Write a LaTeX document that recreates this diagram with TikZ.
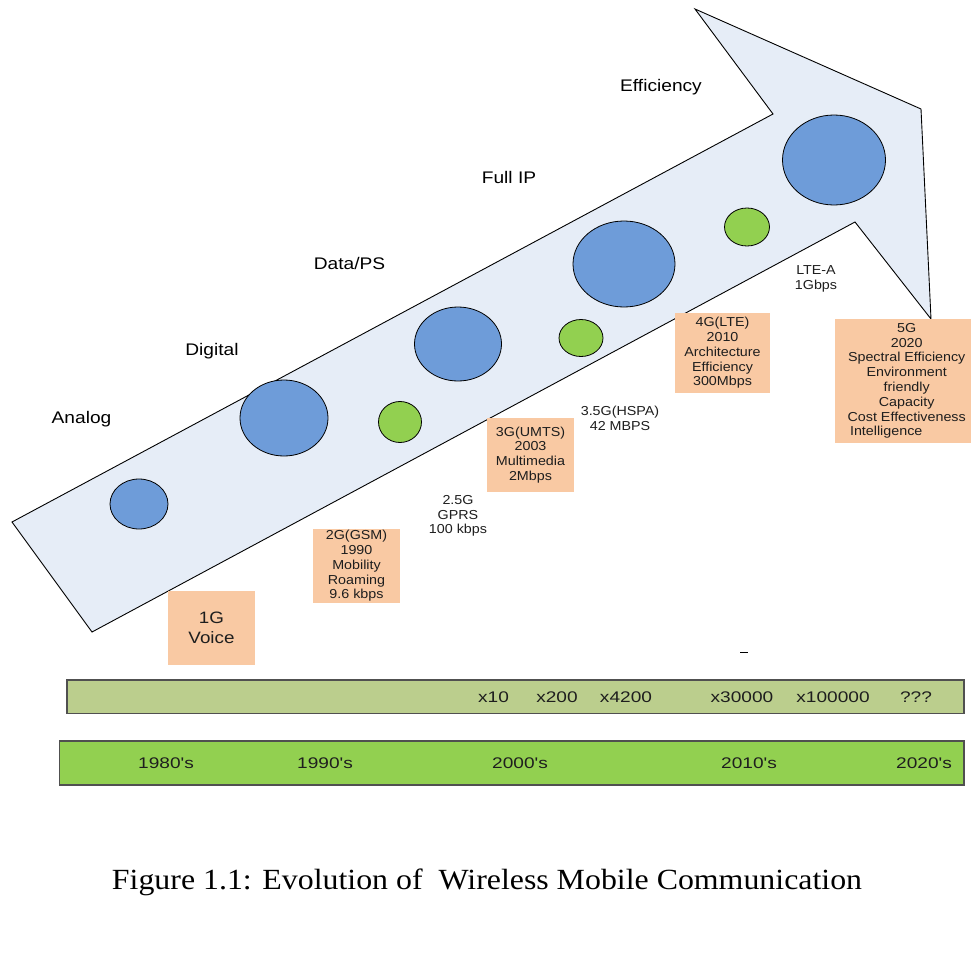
\documentclass[tikz,border=0pt]{standalone}
\usepackage{fontspec}
\usepackage{graphicx}
\usetikzlibrary{shapes.geometric}
\newfontfamily\lblfont{Liberation Sans}[FakeStretch=1.14]
\newfontfamily\boxfont{Liberation Sans}[FakeStretch=1.1]
\newfontfamily\barfont{Liberation Sans}[FakeStretch=1.24]
\newfontfamily\capfont{Liberation Serif}
\definecolor{arrowfill}{HTML}{E6EDF7}
\definecolor{dotblue}{HTML}{6E9CD9}
\definecolor{dotgreen}{HTML}{92D050}
\definecolor{peach}{HTML}{F9C9A3}
\definecolor{olivebar}{HTML}{BBCE8D}
\definecolor{barline}{HTML}{505050}
\definecolor{txt}{HTML}{1E1E1E}
\begin{document}
\begin{tikzpicture}[x=1pt,y=-1pt,
  arrowbody/.style={draw=black,line width=0.9pt,fill=arrowfill,line join=miter},
  dot/.style={ellipse,draw=black,line width=0.8pt,inner sep=0pt},
  bluedot/.style={dot,fill=dotblue},
  greendot/.style={dot,fill=dotgreen},
  gbox/.style={rectangle,fill=peach,inner sep=0pt,align=center,text=txt,
    font=\boxfont\fontsize{13}{14.8}\selectfont},
  note/.style={align=center,inner sep=0pt,text=txt,
    font=\boxfont\fontsize{13}{14.8}\selectfont},
  era/.style={anchor=base,inner sep=0pt,text=black,
    font=\lblfont\fontsize{16.8}{20}\selectfont},
  bar/.style={rectangle,draw=barline,line width=1.2pt,inner sep=0pt},
  bartext/.style={anchor=base,inner sep=0pt,text=txt,
    font=\barfont\fontsize{15.4}{18}\selectfont}]
\useasboundingbox[fill=white] (0,0) rectangle (971,977);

% the rising arrow
\coordinate (tailA) at (12,522);
\coordinate (notchA) at (773,114);
\coordinate (headA) at (695,9);
\coordinate (headB) at (921,109);
\coordinate (headC) at (931,319);
\coordinate (notchB) at (855,222);
\coordinate (tailB) at (92,632);
\draw[arrowbody] (tailA) -- (notchA) -- (headA) -- (headB) -- (headC)
  -- (notchB) -- (tailB) -- cycle;

% generation discs along the arrow
\node[bluedot,minimum width=58pt,minimum height=50pt] (c1) at (139,504) {};
\node[bluedot,minimum width=88pt,minimum height=76pt] (c2) at (284,418) {};
\node[greendot,minimum width=43pt,minimum height=41pt] (c3) at (400,422) {};
\node[bluedot,minimum width=87pt,minimum height=74pt] (c4) at (458,344) {};
\node[greendot,minimum width=44pt,minimum height=37pt] (c5) at (581,338) {};
\node[bluedot,minimum width=102pt,minimum height=86pt] (c6) at (624,264) {};
\node[greendot,minimum width=45pt,minimum height=38pt] (c7) at (747,227) {};
\node[bluedot,minimum width=103pt,minimum height=90pt] (c8) at (834,160) {};

% technology labels above the arrow
\node[era] (analog) at (81.5,423.3) {Analog};
\node[era] (digital) at (212,355.5) {Digital};
\node[era] (dataps) at (349.5,269.5) {Data/PS};
\node[era] (fullip) at (509,183) {Full IP};
\node[era] (effic) at (661,91) {Efficiency};

% generation boxes
\node[gbox,minimum width=87pt,minimum height=74pt,
  font=\lblfont\fontsize{16.5}{20}\selectfont] (g1) at (211.5,628) {1G\\Voice};
\node[gbox,minimum width=87pt,minimum height=74pt] (g2) at (356.5,566)
  {2G(GSM)\\1990\\Mobility\\Roaming\\9.6 kbps};
\node[gbox,minimum width=87pt,minimum height=74pt] (g3) at (530.5,455)
  {3G(UMTS)\\2003\\Multimedia\\2Mbps};
\node[gbox,minimum width=95pt,minimum height=80pt] (g4) at (722.5,353)
  {4G(LTE)\\2010\\Architecture\\Efficiency\\300Mbps};
\node[gbox,minimum width=136pt,minimum height=124pt] (g5) at (903,381) {};
\node[note] (g5text) at (906.7,381)
  {5G\\2020\\Spectral Efficiency\\Environment\\friendly\\Capacity\\Cost Effectiveness\\\hspace*{-41pt}Intelligence};

% intermediate releases
\node[note] (n25) at (458,516) {2.5G\\GPRS\\100 kbps};
\node[note] (n35) at (620,418.5) {3.5G(HSPA)\\42 MBPS};
\node[note] (nltea) at (816,279) {LTE-A\\1Gbps};
\node[inner sep=0pt] (tick) at (744,652.3) {\rule{8pt}{1.1pt}};

% capacity bar
\node[bar,fill=olivebar,minimum width=897pt,minimum height=33.5pt] (capbar) at (515.5,696.75) {};
\node[bartext] (m1) at (493.5,702.7) {x10};
\node[bartext] (m2) at (557,702.7) {x200};
\node[bartext] (m3) at (626,702.7) {x4200};
\node[bartext] (m4) at (742,702.7) {x30000};
\node[bartext] (m5) at (833,702.7) {x100000};
\node[bartext] (m6) at (916,702.7) {???};

% decade bar
\node[bar,fill=dotgreen,minimum width=904.5pt,minimum height=44pt] (decbar) at (511.75,763) {};
\node[bartext] (d1) at (166,768.3) {1980's};
\node[bartext] (d2) at (325,768.3) {1990's};
\node[bartext] (d3) at (520,768.3) {2000's};
\node[bartext] (d4) at (749,768.3) {2010's};
\node[bartext] (d5) at (924,768.3) {2020's};

% caption
\node[anchor=base,inner sep=0pt] (caption) at (487,889.3)
  {\resizebox{750pt}{20.6pt}{\capfont Figure 1.1: Evolution of\ \ Wireless Mobile Communication}};
\end{tikzpicture}
\end{document}
